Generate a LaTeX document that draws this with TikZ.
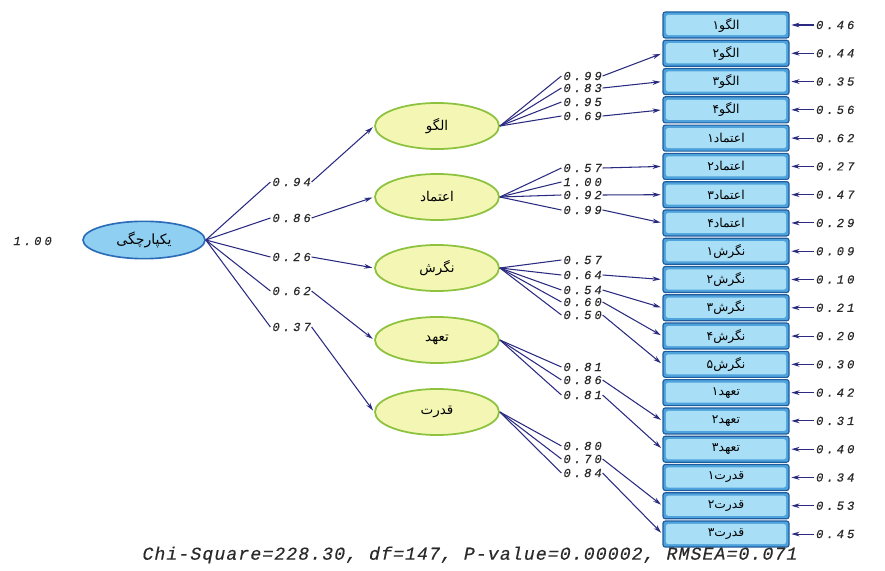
\documentclass[tikz,border=0pt]{standalone}
\usepackage{fontspec}
\usetikzlibrary{arrows.meta,shapes.geometric}
\newfontfamily\farsi[Script=Arabic]{DejaVu Sans}
\newfontfamily\lisrel[LetterSpace=24, FakeSlant=0.2, FakeBold=0.6]{Liberation Mono}
\newfontfamily\statfont[LetterSpace=6, FakeSlant=0.2, FakeBold=0.4]{Liberation Mono}
\TeXXeTstate=1
\newcommand{\fa}[1]{{\farsi\beginR #1\endR}}

\definecolor{latfill}{HTML}{F4F7B4}
\definecolor{latedge}{HTML}{8DC23F}
\definecolor{rootfill}{HTML}{8FD0F2}
\definecolor{rootedge}{HTML}{2B6CB8}
\definecolor{indout}{HTML}{4FA3DC}
\definecolor{indin}{HTML}{A8DEF6}
\definecolor{indedge}{HTML}{1E5C9E}
\definecolor{linkcol}{HTML}{2A2A80}
\definecolor{numcol}{HTML}{2A2A2A}

\begin{document}
\begin{tikzpicture}[x=0.03cm, y=-0.03cm,
    root/.style={ellipse, draw=rootedge, line width=1.4pt, fill=rootfill, minimum width=3.66cm, minimum height=1.12cm, font=\fontsize{12}{14}\selectfont},
    latent/.style={ellipse, draw=latedge, line width=1.5pt, fill=latfill, minimum width=3.72cm, minimum height=1.38cm, font=\fontsize{11.5}{13}\selectfont},
    ind/.style={rectangle, rounded corners=2pt, draw=indedge, line width=1pt, fill=indout, minimum width=3.78cm, minimum height=0.78cm, inner sep=0pt, font=\fontsize{10.5}{12}\selectfont,
        path picture={\fill[indin] ([shift={(2.5pt,2.5pt)}]path picture bounding box.south west) rectangle ([shift={(-2.5pt,-2.5pt)}]path picture bounding box.north east);}},
    lbl/.style={font=\lisrel\fontsize{10.5}{11}\selectfont, text=numcol, inner sep=1pt},
    stat/.style={font=\statfont\fontsize{15.5}{17}\selectfont, text=numcol, inner sep=0pt},
    link/.style={draw=linkcol, line width=0.9pt},
    arr/.style={link, -{Stealth[length=7pt,width=4pt]}, shorten >=1.5pt}
]
    \useasboundingbox (0,0) rectangle (885,571);

    % Second-order factor
    \node[root] (R) at (144,240) {\fa{یکپارچگی}};
    \node[lbl] (rv) at (32,241) {1.00};

    % First-order factors
    \node[latent] (F1) at (437,126) {\fa{الگو}};
    \node[latent] (F2) at (437,197) {\fa{اعتماد}};
    \node[latent] (F3) at (437,268) {\fa{نگرش}};
    \node[latent] (F4) at (437,340) {\fa{تعهد}};
    \node[latent] (F5) at (437,412) {\fa{قدرت}};

    % Paths from the second-order factor
    \foreach \f/\y/\v in {1/182/0.94, 2/218/0.86, 3/257/0.26, 4/291/0.62, 5/327/0.37} {
        \node[lbl] (r\f) at (291,\y) {\v};
        \draw[link] (R.east) -- (r\f.west);
        \draw[arr] (r\f.east) -- (F\f.west);
    }

    % Indicators with error variances
    \foreach \i/\txt/\err in {1/الگو۱/0.46, 2/الگو۲/0.44, 3/الگو۳/0.35, 4/الگو۴/0.56,
            5/اعتماد۱/0.62, 6/اعتماد۲/0.27, 7/اعتماد۳/0.47, 8/اعتماد۴/0.29,
            9/نگرش۱/0.09, 10/نگرش۲/0.10, 11/نگرش۳/0.21, 12/نگرش۴/0.20, 13/نگرش۵/0.30,
            14/تعهد۱/0.42, 15/تعهد۲/0.31, 16/تعهد۳/0.40,
            17/قدرت۱/0.34, 18/قدرت۲/0.53, 19/قدرت۳/0.45} {
        \node[ind] (b\i) at (726,{25+28.28*(\i-1)}) {\fa{\txt}};
        \node[lbl, anchor=west] (e\i) at (814,{25+28.28*(\i-1)}) {\err};
        \draw[arr] (e\i) -- (b\i);
    }

    % Loadings
    \foreach \k/\f/\y/\v in {a/1/76/0.99, b/1/88/0.83, c/1/102/0.95, d/1/116/0.69,
            e/2/168/0.57, f/2/182/1.00, g/2/195/0.92, h/2/210/0.99,
            i/3/260/0.57, j/3/275/0.64, k/3/290/0.54, l/3/302/0.60, m/3/315/0.50,
            n/4/367/0.81, o/4/380/0.86, p/4/395/0.81,
            q/5/446/0.80, r/5/459/0.70, s/5/473/0.84} {
        \node[lbl] (L\k) at (582,\y) {\v};
        \draw[link] (F\f.east) -- (L\k.west);
    }
    \foreach \k/\b in {a/2, b/3, d/4, e/6, g/7, h/8, j/10, k/11, l/12, m/13, o/15, p/16, r/18, s/19}
        \draw[arr] (L\k.east) -- (b\b.west);

    % Fit statistics
    \node[stat] (chi) at (469,555) {Chi-Square=228.30, df=147, P-value=0.00002, RMSEA=0.071};
\end{tikzpicture}
\end{document}
